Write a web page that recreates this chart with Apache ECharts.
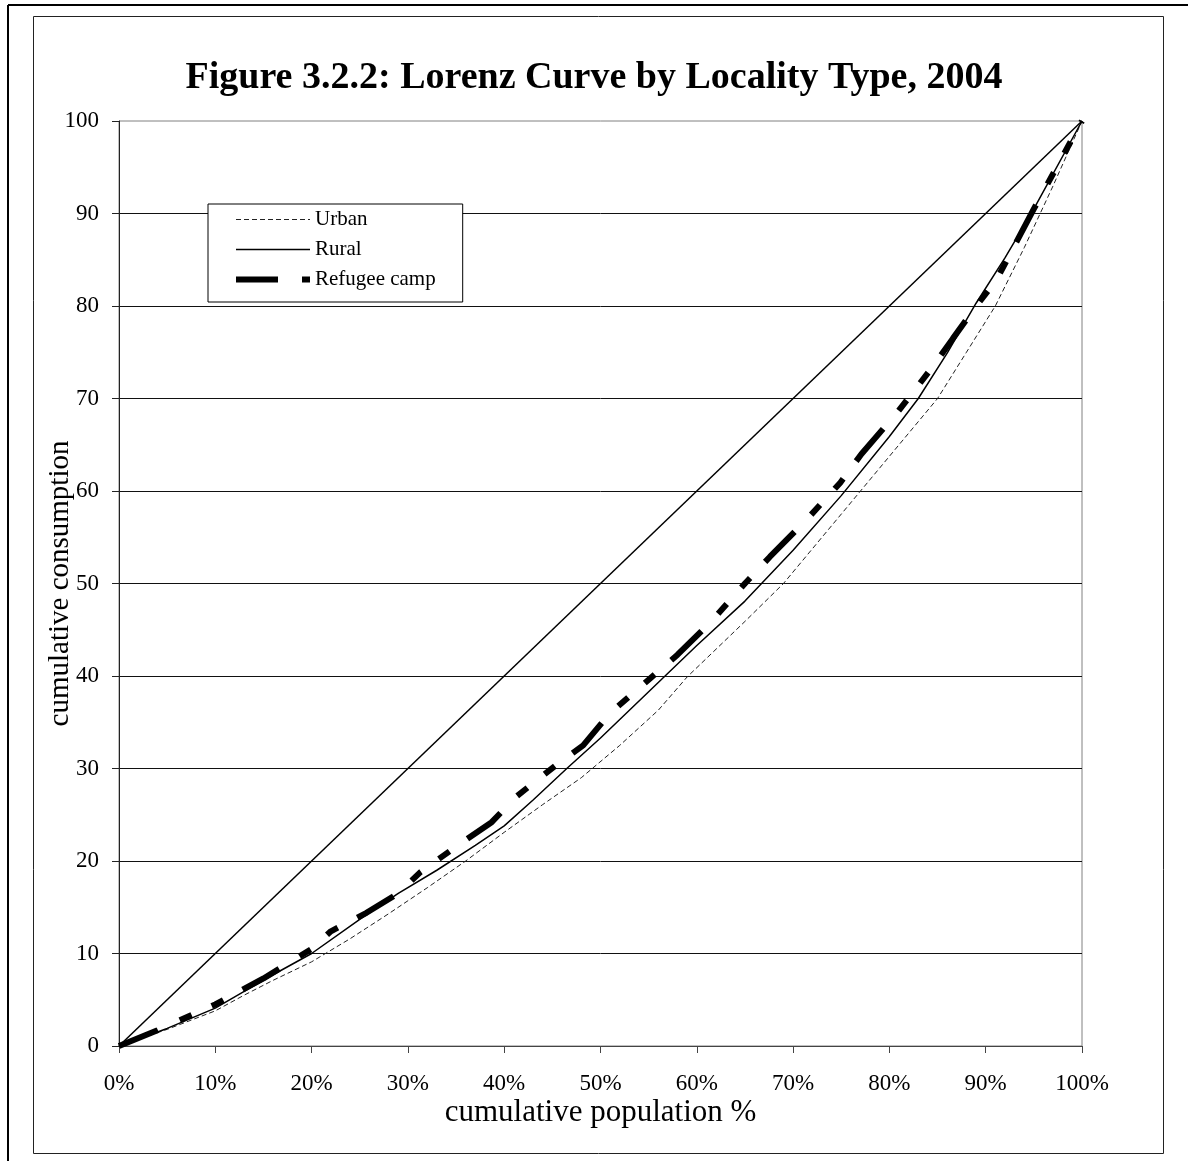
<!DOCTYPE html>
<html>
<head>
<meta charset="utf-8">
<style>
  html, body { margin: 0; padding: 0; background: #fff; }
  #chart { width: 1188px; height: 1161px; }
</style>
<script src="https://cdn.jsdelivr.net/npm/echarts@6/dist/echarts.min.js"></script>
</head>
<body>
<div id="chart"></div>
<script>
// cumulative population % / cumulative consumption
var urbanPop  = [0, 5, 10, 13, 16, 20, 24, 28, 32, 36, 40, 44, 48, 52, 56, 59, 62, 65, 69, 73, 77, 81, 85, 88, 91, 94, 97, 100];
var urbanCons = [0, 1.8, 3.8, 5.5, 7.1, 9.1, 11.6, 14.3, 17.1, 20.0, 23.1, 26.1, 29.0, 32.5, 36.3, 39.9, 42.9, 45.9, 50, 55, 60, 65, 70, 75, 80, 86.3, 93, 100];

var ruralPop  = [0, 5, 10, 13, 16, 20, 25, 29, 33, 37, 40, 43, 46.5, 50, 55, 57, 60, 65, 70, 75, 80, 83, 86, 89, 92, 95, 100];
var ruralCons = [0, 1.9, 4.1, 5.9, 7.7, 10.0, 13.7, 16.5, 19.0, 21.7, 23.8, 26.6, 30, 33.3, 38.3, 40.3, 43.3, 48.1, 53.6, 59.5, 65.9, 70, 74.9, 80.3, 85.2, 90.5, 100];

var campPop  = [0, 4, 10, 15, 20, 22, 25.7, 29, 31.3, 35.6, 38.7, 41.3, 45.3, 48.2, 51, 55, 58, 61.5, 65, 67.6, 71.4, 74.9, 77.1, 80.9, 84.4, 86.6, 89.1, 91.1, 95, 100];
var campCons = [0, 1.7, 4.5, 7.3, 10.5, 12.4, 14.4, 16.5, 18.8, 22.0, 24.2, 27, 30.3, 32.5, 36, 39.6, 42.3, 45.9, 50, 52.9, 56.9, 60.9, 64, 68.6, 73.3, 76.5, 80.1, 82.8, 90.5, 100];

var equalityPop  = [0, 100];
var equalityCons = [0, 100];

function pairs(xs, ys) {
  var out = [];
  for (var i = 0; i < xs.length; i++) out.push([xs[i], ys[i]]);
  return out;
}

var font = 'Liberation Serif';
var chart = echarts.init(document.getElementById('chart'));

var option = {
  backgroundColor: '#fff',
  animation: false,
  title: {
    text: 'Figure 3.2.2: Lorenz Curve by Locality Type, 2004',
    left: 'center',
    top: 54,
    textStyle: {
      fontFamily: font,
      fontWeight: 'bold',
      fontSize: 38,
      color: '#000'
    }
  },
  graphic: [
    // outer frame (left + top)
    { type: 'line', shape: { x1: 8, y1: 5, x2: 8, y2: 1161 }, style: { stroke: '#000', lineWidth: 2 } },
    { type: 'line', shape: { x1: 8, y1: 5, x2: 1188, y2: 5 }, style: { stroke: '#000', lineWidth: 2 } },
    // inner frame
    { type: 'rect', shape: { x: 33.5, y: 16.5, width: 1130, height: 1137 }, style: { fill: null, stroke: '#222', lineWidth: 1 } }
  ],
  legend: {
    orient: 'vertical',
    left: 208,
    top: 204,
    data: ['Urban', 'Rural', 'Refugee camp'],
    itemWidth: 74,
    itemHeight: 14,
    itemGap: 9,
    padding: [5, 27, 12, 25],
    borderColor: '#000',
    borderWidth: 1,
    backgroundColor: '#fff',
    itemStyle: { opacity: 0 },
    lineStyle: { width: 'inherit', type: 'inherit' },
    textStyle: { fontFamily: font, fontSize: 21, color: '#000', lineHeight: 21 }
  },
  grid: {
    left: 119,
    right: 106,
    top: 121,
    bottom: 115,
    show: true,
    borderColor: '#808080',
    borderWidth: 1
  },
  xAxis: {
    type: 'value',
    min: 0,
    max: 100,
    interval: 10,
    name: 'cumulative population %',
    nameLocation: 'middle',
    nameGap: 51,
    nameMoveOverlap: false,
    nameTextStyle: { fontFamily: font, fontSize: 31, color: '#000' },
    axisLine: { lineStyle: { color: '#444', width: 1 } },
    axisTick: { inside: false, length: 7, lineStyle: { color: '#444' } },
    axisLabel: {
      formatter: '{value}%',
      fontFamily: font,
      fontSize: 23,
      color: '#000',
      margin: 26
    },
    splitLine: { show: false }
  },
  yAxis: {
    type: 'value',
    min: 0,
    max: 100,
    interval: 10,
    name: 'cumulative consumption',
    nameLocation: 'middle',
    nameGap: 44,
    nameMoveOverlap: false,
    nameTextStyle: { fontFamily: font, fontSize: 29, color: '#000' },
    axisLine: { show: true, lineStyle: { color: '#222', width: 1 } },
    axisTick: { show: true, length: 7, lineStyle: { color: '#222' } },
    axisLabel: { fontFamily: font, fontSize: 23, color: '#000', margin: 20 },
    splitLine: { show: true, showMinLine: false, showMaxLine: false, lineStyle: { color: '#111', width: 1 } }
  },
  series: [
    {
      name: 'equality',
      type: 'line',
      data: pairs(equalityPop, equalityCons),
      showSymbol: false,
      symbol: 'none',
      lineStyle: { color: '#000', width: 1.5 },
      z: 3
    },
    {
      name: 'Urban',
      type: 'line',
      data: pairs(urbanPop, urbanCons),
      showSymbol: false,
      symbol: 'none',
      itemStyle: { color: '#222' },
      lineStyle: { color: '#222', width: 1, type: [5, 3] },
      z: 4
    },
    {
      name: 'Rural',
      type: 'line',
      data: pairs(ruralPop, ruralCons),
      showSymbol: false,
      symbol: 'none',
      itemStyle: { color: '#000' },
      lineStyle: { color: '#000', width: 1.5 },
      z: 5
    },
    {
      name: 'Refugee camp',
      type: 'line',
      data: pairs(campPop, campCons),
      showSymbol: false,
      symbol: 'none',
      itemStyle: { color: '#000' },
      lineStyle: { color: '#000', width: 6, type: [42, 24, 13, 22, 13, 22] },
      z: 6
    }
  ]
};

chart.setOption(option);
</script>
</body>
</html>
